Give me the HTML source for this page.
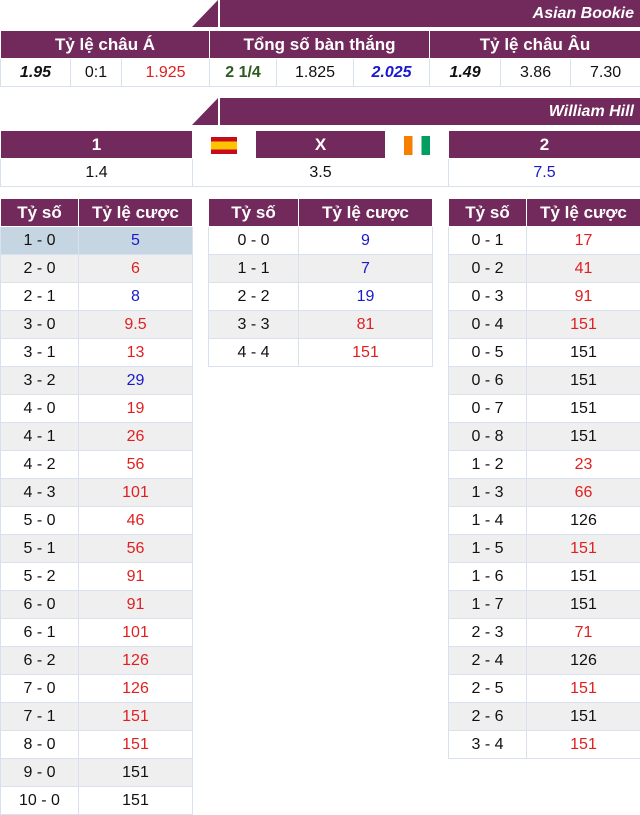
<!DOCTYPE html>
<html><head><meta charset="utf-8"><style>
*{margin:0;padding:0;box-sizing:border-box}
body{width:640px;height:814px;background:#fff;font-family:"Liberation Sans",Arial,sans-serif;font-size:16px;position:relative;overflow:hidden;color:#111}
.bar{position:absolute;left:220px;width:420px;height:27px;background:#722a5c;color:#fff;font-weight:bold;font-style:italic;font-size:16px;text-align:right;padding-right:6px;line-height:27px}
.tri{position:absolute;width:0;height:0;border-bottom:27px solid #722a5c;border-left:26px solid transparent;left:192px}
table{position:absolute;border-collapse:collapse;table-layout:fixed}
td,th{border:1px solid #d9e1ee;text-align:center;height:28px;padding:0}
th{background:#722a5c;color:#fff;font-weight:bold;font-size:17px;border-color:#fff}
.r{color:#e02020}.b{color:#1a1acc}.g{color:#2e5a1e;font-weight:bold}.bi{font-weight:bold;font-style:italic}
.s td{background:#efefef}
.sel td{background:#c5d5e2}
</style></head><body>
<div class="tri" style="top:0"></div><div class="bar" style="top:0">Asian Bookie</div>
<table style="left:0;top:30px;width:640px">
<colgroup><col style="width:70px"><col style="width:51px"><col style="width:88px"><col style="width:67px"><col style="width:77px"><col style="width:76px"><col style="width:71px"><col style="width:70px"><col style="width:70px"></colgroup>
<tr><th colspan="3">Tỷ lệ châu Á</th><th colspan="3">Tổng số bàn thắng</th><th colspan="3">Tỷ lệ châu Âu</th></tr>
<tr><td class="bi">1.95</td><td>0:1</td><td class="r">1.925</td><td class="g">2 1/4</td><td>1.825</td><td class="b bi">2.025</td><td class="bi">1.49</td><td>3.86</td><td>7.30</td></tr>
</table>
<div class="tri" style="top:98px"></div><div class="bar" style="top:98px">William Hill</div>
<table style="left:0;top:130px;width:640px">
<colgroup><col style="width:192px"><col style="width:63px"><col style="width:130px"><col style="width:63px"><col style="width:192px"></colgroup>
<tr><th>1</th><th style="background:#fff"><span style="display:inline-block;width:26px;height:17px;background:linear-gradient(#c60b1e 25%,#ffc400 25%,#ffc400 75%,#c60b1e 75%);vertical-align:middle"></span></th><th>X</th><th style="background:#fff"><span style="display:inline-block;width:26px;height:19px;background:linear-gradient(90deg,#f77f00 33%,#fff 33%,#fff 67%,#009e60 67%);vertical-align:middle"></span></th><th>2</th></tr>
<tr><td>1.4</td><td colspan="3">3.5</td><td class="b">7.5</td></tr>
</table>
<table style="left:0;top:198px;width:192px">
<colgroup><col style="width:78px"><col style="width:114px"></colgroup>
<tr><th>Tỷ số</th><th>Tỷ lệ cược</th></tr>
<tr class="sel"><td>1 - 0</td><td class="b">5</td></tr>
<tr class="s"><td>2 - 0</td><td class="r">6</td></tr>
<tr><td>2 - 1</td><td class="b">8</td></tr>
<tr class="s"><td>3 - 0</td><td class="r">9.5</td></tr>
<tr><td>3 - 1</td><td class="r">13</td></tr>
<tr class="s"><td>3 - 2</td><td class="b">29</td></tr>
<tr><td>4 - 0</td><td class="r">19</td></tr>
<tr class="s"><td>4 - 1</td><td class="r">26</td></tr>
<tr><td>4 - 2</td><td class="r">56</td></tr>
<tr class="s"><td>4 - 3</td><td class="r">101</td></tr>
<tr><td>5 - 0</td><td class="r">46</td></tr>
<tr class="s"><td>5 - 1</td><td class="r">56</td></tr>
<tr><td>5 - 2</td><td class="r">91</td></tr>
<tr class="s"><td>6 - 0</td><td class="r">91</td></tr>
<tr><td>6 - 1</td><td class="r">101</td></tr>
<tr class="s"><td>6 - 2</td><td class="r">126</td></tr>
<tr><td>7 - 0</td><td class="r">126</td></tr>
<tr class="s"><td>7 - 1</td><td class="r">151</td></tr>
<tr><td>8 - 0</td><td class="r">151</td></tr>
<tr class="s"><td>9 - 0</td><td>151</td></tr>
<tr><td>10 - 0</td><td>151</td></tr>
</table>
<table style="left:208px;top:198px;width:224px">
<colgroup><col style="width:90px"><col style="width:134px"></colgroup>
<tr><th>Tỷ số</th><th>Tỷ lệ cược</th></tr>
<tr><td>0 - 0</td><td class="b">9</td></tr>
<tr class="s"><td>1 - 1</td><td class="b">7</td></tr>
<tr><td>2 - 2</td><td class="b">19</td></tr>
<tr class="s"><td>3 - 3</td><td class="r">81</td></tr>
<tr><td>4 - 4</td><td class="r">151</td></tr>
</table>
<table style="left:448px;top:198px;width:192px">
<colgroup><col style="width:78px"><col style="width:114px"></colgroup>
<tr><th>Tỷ số</th><th>Tỷ lệ cược</th></tr>
<tr><td>0 - 1</td><td class="r">17</td></tr>
<tr class="s"><td>0 - 2</td><td class="r">41</td></tr>
<tr><td>0 - 3</td><td class="r">91</td></tr>
<tr class="s"><td>0 - 4</td><td class="r">151</td></tr>
<tr><td>0 - 5</td><td>151</td></tr>
<tr class="s"><td>0 - 6</td><td>151</td></tr>
<tr><td>0 - 7</td><td>151</td></tr>
<tr class="s"><td>0 - 8</td><td>151</td></tr>
<tr><td>1 - 2</td><td class="r">23</td></tr>
<tr class="s"><td>1 - 3</td><td class="r">66</td></tr>
<tr><td>1 - 4</td><td>126</td></tr>
<tr class="s"><td>1 - 5</td><td class="r">151</td></tr>
<tr><td>1 - 6</td><td>151</td></tr>
<tr class="s"><td>1 - 7</td><td>151</td></tr>
<tr><td>2 - 3</td><td class="r">71</td></tr>
<tr class="s"><td>2 - 4</td><td>126</td></tr>
<tr><td>2 - 5</td><td class="r">151</td></tr>
<tr class="s"><td>2 - 6</td><td>151</td></tr>
<tr><td>3 - 4</td><td class="r">151</td></tr>
</table>
</body></html>
